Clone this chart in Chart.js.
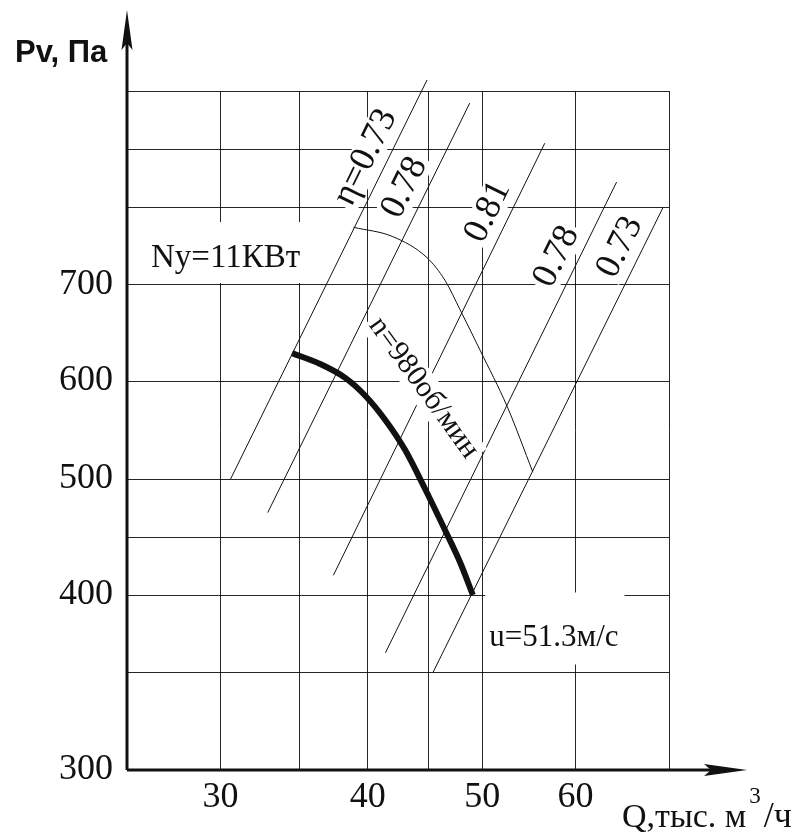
<!DOCTYPE html>
<html><head><meta charset="utf-8">
<script src="https://cdn.jsdelivr.net/npm/chart.js@4.4.1/dist/chart.umd.min.js"></script>
<style>html,body{margin:0;padding:0;background:#fff;} #wrap{width:809px;height:835px;}</style>
</head><body><div id="wrap"><canvas id="c" width="809" height="835"></canvas></div>
<script>
// ---------------- data ----------------
const curveQ = [34.5, 36.4, 38.3, 39.8, 41.4, 43.0, 44.7, 46.5, 47.9, 49.1];   // thousand m3/h
const curveP = [629, 618, 603, 585, 560, 530, 492, 456, 428, 400];              // Pa
const arcQ = [38.9, 42.0, 44.9, 46.5, 47.9, 49.8, 52.5, 55.2];
const arcP = [774, 762, 735, 706, 674, 632, 574, 507];
const etaLabels = ['η=0.73', '0.78', '0.81', '0.78', '0.73'];
const etaStartQ = [30.6, 32.9, 37.4, 41.4, 45.4];
const etaStartP = [500, 471, 417, 363, 350];
const etaEndQ = [44.9, 48.8, 56.5, 65.0, 71.2];
const etaEndP = [1019, 979, 910, 843, 800];
const xTicks = [30, 35, 40, 45, 50, 60, 72];
const xTickLabels = [30, 40, 50, 60];
const yTicks = [300, 350, 400, 450, 500, 600, 700, 800, 900, 1000];
const yTickLabels = [300, 400, 500, 600, 700];
const speedLabel = 'n=980об/мин';
const powerLabel = 'Ny=11КВт';
const tipLabel = 'u=51.3м/с';
const yTitle = 'Pv, Па';
const xTitleMain = 'Q,тыс. м', xTitleSup = '3', xTitleEnd = '/ч';

// --------- scale: the paper's own (irregular, log-like) vertical grid spacing ---------
const Y_GRID_FRACS = [0, 0.14286, 0.25773, 0.34315, 0.42857, 0.5729, 0.71429, 0.82916, 0.91458, 1];
class PaperScale extends Chart.LinearScale {
  _seg(v) {
    const V = yTicks; let i = 0;
    if (v >= V[V.length - 1]) return V.length - 2;
    while (i < V.length - 2 && v > V[i + 1]) i++;
    return i;
  }
  valueToFrac(v) {
    const V = yTicks, F = Y_GRID_FRACS, i = this._seg(v);
    return F[i] + (v - V[i]) / (V[i + 1] - V[i]) * (F[i + 1] - F[i]);
  }
  fracToValue(f) {
    const V = yTicks, F = Y_GRID_FRACS; let i = 0;
    while (i < F.length - 2 && f > F[i + 1]) i++;
    return V[i] + (f - F[i]) / (F[i + 1] - F[i]) * (V[i + 1] - V[i]);
  }
  getPixelForValue(v) { return (v === null || v === undefined) ? NaN : this.getPixelForDecimal(this.valueToFrac(v)); }
  getValueForPixel(p) { return this.fracToValue(this.getDecimalForPixel(p)); }
}
PaperScale.id = 'paper';
PaperScale.defaults = Chart.LinearScale.defaults;
Chart.register(PaperScale);

const pts = (xs, ys) => xs.map((q, i) => ({x: q, y: ys[i]}));
const INK = '#111';
const SERIF = '"Liberation Serif", "Times New Roman", serif';

const datasets = [
  {data: pts(curveQ, curveP), borderColor: INK, borderWidth: 6, cubicInterpolationMode: 'monotone', borderCapStyle: 'butt'},
  {data: pts(arcQ, arcP), borderColor: INK, borderWidth: 1, cubicInterpolationMode: 'monotone'}
];
etaLabels.forEach((l, i) => datasets.push({
  data: pts([etaStartQ[i], etaEndQ[i]], [etaStartP[i], etaEndP[i]]),
  borderColor: INK, borderWidth: 1, clip: false
}));
datasets.forEach(d => { d.pointRadius = 0; d.showLine = true; d.fill = false; });

// label layout (fraction along each efficiency line, perpendicular offset)
const etaLabelAt = [0.783, 0.771, 0.82, 0.822, 0.894];
const etaLabelOff = 21;

function boxedText(ctx, text, cx, cy, angle, size, padX, padY) {
  ctx.save();
  ctx.translate(cx, cy); ctx.rotate(angle);
  ctx.font = size + 'px ' + SERIF;
  const w = ctx.measureText(text).width, h = size * 0.72;
  ctx.fillStyle = '#fff';
  ctx.fillRect(-w / 2 - padX, -h / 2 - padY, w + 2 * padX, h + 2 * padY);
  ctx.fillStyle = INK; ctx.textAlign = 'center'; ctx.textBaseline = 'middle';
  ctx.fillText(text, 0, 0);
  ctx.restore();
}

const decor = {
  id: 'decor',
  afterDatasetsDraw(chart) {
    const {ctx, scales: {x, y}} = chart;
    // efficiency labels, parallel to their lines
    etaLabels.forEach((txt, i) => {
      const m = chart.getDatasetMeta(2 + i);
      const a = m.data[0], b = m.data[1];
      const ang = Math.atan2(b.y - a.y, b.x - a.x);
      const t = etaLabelAt[i];
      const px = a.x + t * (b.x - a.x) + etaLabelOff * Math.sin(ang);
      const py = a.y + t * (b.y - a.y) - etaLabelOff * Math.cos(ang);
      boxedText(ctx, txt, px, py, ang, 36, 3, 3);
    });
    // speed label along the curve
    boxedText(ctx, speedLabel, x.getPixelForValue(44.6), y.getPixelForValue(593), 54 * Math.PI / 180, 30, 3, 5);

    // power label with knock-out box
    ctx.save();
    ctx.font = '33px ' + SERIF;
    let lx = x.getPixelForValue(26.2), ly = y.getPixelForValue(723);
    let w = ctx.measureText(powerLabel).width;
    ctx.fillStyle = '#fff';
    ctx.fillRect(lx - 8, ly - 45, w + 18, 61);
    ctx.fillStyle = INK; ctx.textBaseline = 'alphabetic'; ctx.textAlign = 'left';
    ctx.fillText(powerLabel, lx, ly);
    // tip speed label
    ctx.font = '31px ' + SERIF;
    lx = x.getPixelForValue(50.7); ly = y.getPixelForValue(367);
    w = ctx.measureText(tipLabel).width;
    ctx.fillStyle = '#fff';
    ctx.fillRect(lx - 4, ly - 54, w + 10, 72);
    ctx.fillStyle = INK;
    ctx.fillText(tipLabel, lx, ly);
    ctx.restore();
  },
  afterDraw(chart) {
    const {ctx, chartArea: ca} = chart;
    ctx.save();
    ctx.fillStyle = INK; ctx.strokeStyle = INK; ctx.lineWidth = 3;
    // axes
    ctx.beginPath();
    ctx.moveTo(ca.left, ca.bottom); ctx.lineTo(ca.left, 40);
    ctx.moveTo(ca.left, ca.bottom); ctx.lineTo(712, ca.bottom);
    ctx.stroke();
    // arrow heads
    ctx.beginPath();
    ctx.moveTo(ca.left, 10); ctx.lineTo(ca.left + 5.5, 50); ctx.lineTo(ca.left, 43); ctx.lineTo(ca.left - 5.5, 50); ctx.closePath();
    ctx.fill();
    ctx.beginPath();
    ctx.moveTo(747, ca.bottom); ctx.lineTo(704, ca.bottom - 6); ctx.lineTo(711, ca.bottom); ctx.lineTo(704, ca.bottom + 6); ctx.closePath();
    ctx.fill();
    // axis titles
    ctx.textAlign = 'left'; ctx.textBaseline = 'alphabetic';
    ctx.font = 'bold 31px "Liberation Sans", Arial, sans-serif';
    ctx.fillText(yTitle, 15, 62);
    ctx.font = '34px ' + SERIF;
    let tx = 622;
    ctx.fillText(xTitleMain, tx, 827);
    tx += ctx.measureText(xTitleMain).width + 3;
    ctx.font = '23px ' + SERIF;
    ctx.fillText(xTitleSup, tx, 803);
    tx += ctx.measureText(xTitleSup).width + 3;
    ctx.font = '36px ' + SERIF;
    ctx.fillText(xTitleEnd, tx, 827);
    ctx.restore();
  }
};

new Chart(document.getElementById('c'), {
  type: 'scatter',
  data: {datasets},
  plugins: [decor],
  options: {
    responsive: false, animation: false, devicePixelRatio: 1, events: [],
    layout: {padding: {left: 0, right: 140, top: 91, bottom: 0}},
    plugins: {legend: {display: false}, tooltip: {enabled: false}},
    scales: {
      x: {
        type: 'logarithmic', min: 25, max: 72,
        afterBuildTicks: s => { s.ticks = xTicks.map(v => ({value: v})); },
        afterFit: s => { s.height = 65; },
        grid: {color: 'rgba(0,0,0,0.85)', lineWidth: 1, drawTicks: false},
        border: {display: false},
        ticks: {
          autoSkip: false, maxRotation: 0, padding: 6, color: INK,
          font: {family: SERIF, size: 36},
          callback: v => xTickLabels.includes(v) ? String(v) : ''
        }
      },
      y: {
        type: 'paper', min: 300, max: 1000,
        afterBuildTicks: s => { s.ticks = yTicks.map(v => ({value: v})); },
        afterFit: s => { s.width = 127; },
        grid: {color: 'rgba(0,0,0,0.85)', lineWidth: 1, drawTicks: false},
        border: {display: false},
        ticks: {
          autoSkip: false, padding: 14, color: INK,
          font: {family: SERIF, size: 36},
          callback: v => yTickLabels.includes(v) ? String(v) : ''
        }
      }
    }
  }
});
</script>
</body></html>
